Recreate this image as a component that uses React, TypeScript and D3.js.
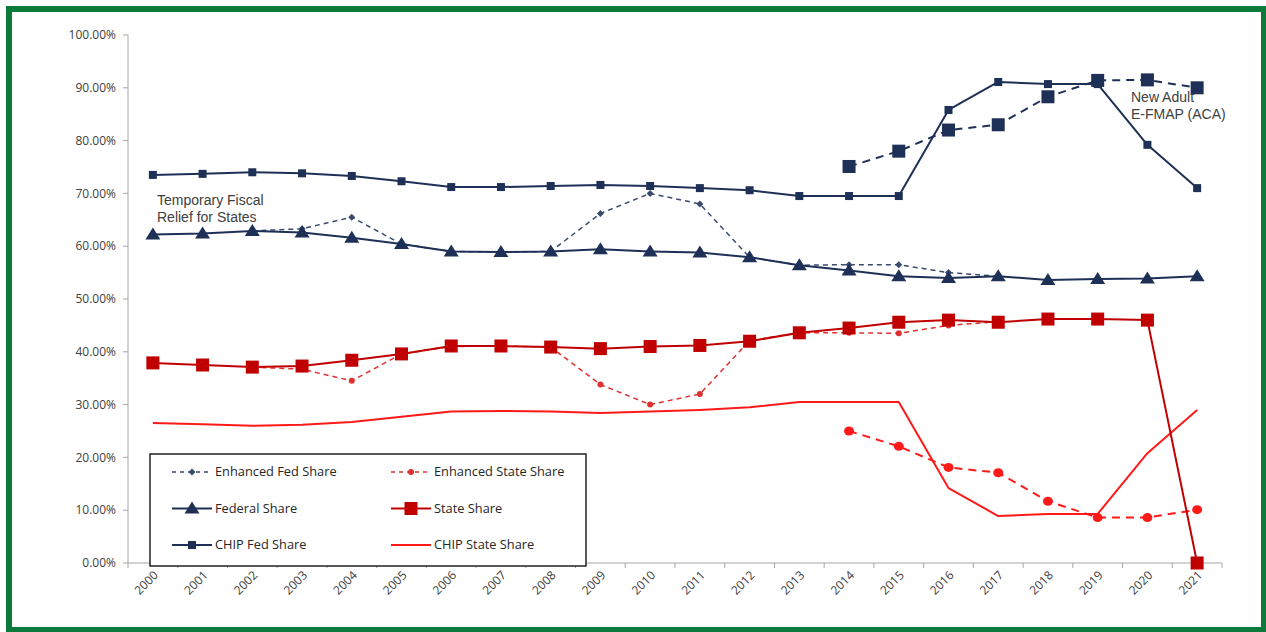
import * as d3 from "d3";

const years = d3.range(2000, 2022).map(String);
const yTicks = [0, 10, 20, 30, 40, 50, 60, 70, 80, 90, 100];

type V = number | null;

const chipFed: V[] = [73.5, 73.7, 74.0, 73.8, 73.3, 72.3, 71.2, 71.2, 71.4, 71.6, 71.4, 71.0, 70.6, 69.5, 69.5, 69.5, 85.8, 91.1, 90.7, 90.7, 79.2, 71.0];
const federal: V[] = [62.2, 62.4, 62.9, 62.6, 61.6, 60.4, 59.0, 58.9, 59.0, 59.4, 59.0, 58.8, 57.9, 56.4, 55.4, 54.3, 54.0, 54.3, 53.6, 53.8, 53.9, 54.3];
const enhancedFed: V[] = [null, null, 62.9, 63.3, 65.5, 60.4, 59.0, 58.9, 59.0, 66.2, 70.0, 68.0, 57.9, 56.4, 56.5, 56.5, 55.0, 54.3, null, null, null, null];
const stateShare: V[] = [37.9, 37.5, 37.1, 37.3, 38.4, 39.6, 41.1, 41.1, 40.9, 40.6, 41.0, 41.2, 42.0, 43.6, 44.5, 45.6, 46.0, 45.6, 46.2, 46.2, 46.0, 0];
const enhancedState: V[] = [null, null, 37.1, 36.7, 34.5, 39.6, 41.0, 41.1, 40.9, 33.8, 30.0, 32.0, 42.1, 43.6, 43.6, 43.5, 45.0, 45.7, null, null, null, null];
const chipState: V[] = [26.5, 26.3, 26.0, 26.2, 26.7, 27.7, 28.7, 28.8, 28.7, 28.4, 28.7, 29.0, 29.5, 30.5, 30.5, 30.5, 14.2, 8.9, 9.3, 9.3, 20.8, 29.0];
const newAdultFed: V[] = [null, null, null, null, null, null, null, null, null, null, null, null, null, null, 75.1, 78.0, 82.0, 83.0, 88.3, 91.4, 91.5, 90.0];
const newAdultState: V[] = [null, null, null, null, null, null, null, null, null, null, null, null, null, null, 25.0, 22.1, 18.1, 17.1, 11.7, 8.6, 8.6, 10.1];

const NAVY = "#1f3057";
const DRED = "#c00000";
const RED = "#ff1a1a";
const FONT = "'Open Sans', Lato, sans-serif";
const NOTE_FONT = "'Liberation Sans', Arial, sans-serif";

type Marker = "triangle" | "square" | "bigsquare" | "diamond" | "dot" | "circle" | "none";

interface SeriesDef {
  name: string;
  values: V[];
  color: string;
  dash?: string;
  width: number;
  marker: Marker;
}

const series: SeriesDef[] = [
  { name: "CHIP State Share", values: chipState, color: RED, width: 2, marker: "none" },
  { name: "New Adult State", values: newAdultState, color: RED, dash: "8,6", width: 2, marker: "circle" },
  { name: "Enhanced State Share", values: enhancedState, color: "#e03030", dash: "5,4", width: 1.5, marker: "dot" },
  { name: "State Share", values: stateShare, color: DRED, width: 2, marker: "bigsquare" },
  { name: "Enhanced Fed Share", values: enhancedFed, color: "#3a4a6e", dash: "5,4", width: 1.5, marker: "diamond" },
  { name: "Federal Share", values: federal, color: NAVY, width: 2, marker: "triangle" },
  { name: "New Adult Fed", values: newAdultFed, color: NAVY, dash: "8,6", width: 2, marker: "bigsquare" },
  { name: "CHIP Fed Share", values: chipFed, color: NAVY, width: 2, marker: "square" },
];

const legendItems: { name: string; col: number; row: number }[] = [
  { name: "Enhanced Fed Share", col: 0, row: 0 },
  { name: "Enhanced State Share", col: 1, row: 0 },
  { name: "Federal Share", col: 0, row: 1 },
  { name: "State Share", col: 1, row: 1 },
  { name: "CHIP Fed Share", col: 0, row: 2 },
  { name: "CHIP State Share", col: 1, row: 2 },
];

const notes = [
  { lines: ["Temporary Fiscal", "Relief for States"], x: 157, y: 205 },
  { lines: ["New Adult", "E-FMAP (ACA)"], x: 1131, y: 102 },
];

function MarkerShape({ type, x, y, color }: { type: Marker; x: number; y: number; color: string }) {
  switch (type) {
    case "triangle":
      return <path d={`M${x},${y - 7}L${x + 7.5},${y + 5}L${x - 7.5},${y + 5}Z`} fill={color} />;
    case "square":
      return <rect x={x - 4} y={y - 4} width={8} height={8} fill={color} />;
    case "bigsquare":
      return <rect x={x - 6.5} y={y - 6.5} width={13} height={13} fill={color} />;
    case "diamond":
      return <path d={`M${x},${y - 3.5}L${x + 3.5},${y}L${x},${y + 3.5}L${x - 3.5},${y}Z`} fill={color} />;
    case "dot":
      return <circle cx={x} cy={y} r={3} fill={color} />;
    case "circle":
      return <ellipse cx={x} cy={y} rx={5} ry={4.5} fill={color} />;
    default:
      return null;
  }
}

export default function App() {
  const W = 1266;
  const H = 632;
  const x = d3.scaleBand<string>().domain(years).range([128, 1222]);
  const y = d3.scaleLinear().domain([0, 100]).range([563, 35]);
  const cx = (yr: string) => (x(yr) ?? 0) + x.bandwidth() / 2;

  const line = d3
    .line<V>()
    .defined((d) => d !== null)
    .x((_, i) => cx(years[i]))
    .y((d) => y(d as number));

  const byName = (n: string) => series.find((s) => s.name === n)!;

  return (
    <svg width={W} height={H} style={{ position: "absolute", left: 0, top: 0, background: "#fff" }} fontFamily={FONT}>
      <rect x={9} y={9} width={1255} height={621} fill="#fff" stroke="#0b7a3b" strokeWidth={6} />

      {/* y axis */}
      <line x1={128} x2={128} y1={35} y2={563} stroke="#a6a6a6" />
      {yTicks.map((t) => (
        <g key={t}>
          <line x1={123} x2={128} y1={y(t)} y2={y(t)} stroke="#a6a6a6" />
          <text x={116} y={y(t)} dy="0.35em" textAnchor="end" fontSize={12} fill="#404040">
            {t.toFixed(2)}%
          </text>
        </g>
      ))}

      {/* x axis */}
      <line x1={128} x2={1222} y1={563} y2={563} stroke="#a6a6a6" />
      {[...years.map((yr) => x(yr) ?? 0), 1222].map((px, i) => (
        <line key={i} x1={px} x2={px} y1={563} y2={568} stroke="#a6a6a6" />
      ))}
      {years.map((yr) => (
        <text
          key={yr}
          transform={`translate(${cx(yr) + 6},${576}) rotate(-45)`}
          textAnchor="end"
          fontSize={12}
          fill="#404040"
        >
          {yr}
        </text>
      ))}

      {/* legend */}
      <rect x={150} y={454} width={436} height={112} fill="#fff" stroke="#000" strokeWidth={1.3} />
      {legendItems.map((it) => {
        const s = byName(it.name);
        const lx = it.col === 0 ? 172 : 391;
        const ly = 472 + it.row * 36.5;
        return (
          <g key={it.name}>
            <line x1={lx} x2={lx + 40} y1={ly} y2={ly} stroke={s.color} strokeWidth={s.width} strokeDasharray={s.dash ? "4,4" : undefined} />
            <MarkerShape type={s.marker} x={lx + 20} y={ly} color={s.color} />
            <text x={lx + 43} y={ly} dy="0.35em" fontSize={12.8} fill="#262626">
              {it.name}
            </text>
          </g>
        );
      })}

      {/* series */}
      {series.map((s) => (
        <g key={s.name}>
          <path d={line(s.values) ?? ""} fill="none" stroke={s.color} strokeWidth={s.width} strokeDasharray={s.dash} strokeLinejoin="round" />
          {s.values.map((v, i) =>
            v === null ? null : <MarkerShape key={i} type={s.marker} x={cx(years[i])} y={y(v)} color={s.color} />
          )}
        </g>
      ))}

      {/* annotations */}
      {notes.map((n) => (
        <text key={n.lines[0]} x={n.x} y={n.y} fontSize={14} fill="#404040" fontFamily={NOTE_FONT}>
          {n.lines.map((l, i) => (
            <tspan key={l} x={n.x} dy={i === 0 ? 0 : 16.5}>
              {l}
            </tspan>
          ))}
        </text>
      ))}
    </svg>
  );
}
